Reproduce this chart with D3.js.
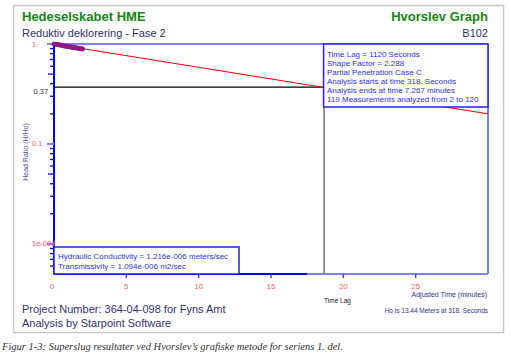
<!DOCTYPE html>
<html><head><meta charset="utf-8">
<script src="https://cdn.jsdelivr.net/npm/d3@7"></script>
<style>body{margin:0;background:#fff}svg{display:block;font-family:"Liberation Sans",Arial,sans-serif}</style>
</head><body><svg id="c" width="511" height="356"></svg>
<script>
// ---- data ----
const adjTime   = [0.00,0.08,0.17,0.25,0.33,0.42,0.50,0.58,0.67,0.75,0.83,0.92,1.00,1.08,1.17,1.25,1.33,1.42,1.50,1.58,1.67,1.75,1.83,1.92,1.97];
const headRatio = [1.00,0.996,0.99,0.986,0.981,0.976,0.972,0.966,0.961,0.957,0.951,0.947,0.942,0.937,0.933,0.928,0.924,0.92,0.915,0.911,0.906,0.902,0.898,0.894,0.892];
const fitTime  = [0, 30];
const fitRatio = [1.0, 0.2];
const xTickValues = [0,5,10,15,20,25];
const yDecadeValues = [1, 0.1, 0.01];
const yDecadeLabels = ["1.", "0.1", "1e-002"];
const yMinorValues = [0.9,0.8,0.7,0.6,0.4,0.3,0.2,0.09,0.08,0.07,0.06,0.04,0.03,0.02,0.009,0.008,0.007,0.006];
const yMidValues = [0.5, 0.05];
const timeLag = 18.67, lagRatio = 0.37;
const infoLines = ["Time Lag = 1120 Seconds","Shape Factor = 2.288","Partial Penetration Case C","Analysis starts at time 318. Seconds","Analysis ends at time 7.267 minutes","119 Measurements analyzed from 2 to 120"];
const resultLines = ["Hydraulic Conductivity = 1.216e-006 meters/sec","Transmissivity = 1.094e-006 m2/sec"];

// ---- layout ----
const svg = d3.select("#c");
const L=54, R=488, T=44, B=274;
const x = d3.scaleLinear().domain([0,30]).range([L,R]);
const y = d3.scaleLog().domain([0.005,1]).range([B,T]);
const dark="#0000ff", light="#8080ff", navy="#30307a", green="#108a10", salmon="#ff5a5a";

// frame
svg.append("rect").attr("x",13.5).attr("y",5.5).attr("width",490).attr("height",327)
  .attr("fill","#fff").attr("stroke","#c8c8c8").attr("stroke-width",1.5);

// headers
svg.append("text").attr("x",22).attr("y",21).attr("font-size",13).attr("font-weight","bold").attr("fill",green).text("Hedeselskabet HME");
svg.append("text").attr("x",22).attr("y",37).attr("font-size",11).attr("fill",navy).text("Reduktiv deklorering - Fase 2");
svg.append("text").attr("x",488).attr("y",21).attr("font-size",13).attr("font-weight","bold").attr("fill",green).attr("text-anchor","end").text("Hvorslev Graph");
svg.append("text").attr("x",488).attr("y",37).attr("font-size",11).attr("fill",navy).attr("text-anchor","end").text("B102");

// plot borders
svg.append("line").attr("x1",L).attr("x2",R).attr("y1",T).attr("y2",T).attr("stroke",light).attr("stroke-width",2);
svg.append("line").attr("x1",R).attr("x2",R).attr("y1",T).attr("y2",B).attr("stroke",light).attr("stroke-width",2);
svg.append("line").attr("x1",L).attr("x2",x(17.5)).attr("y1",B).attr("y2",B).attr("stroke",dark).attr("stroke-width",2);
svg.append("line").attr("x1",x(17.5)).attr("x2",R).attr("y1",B).attr("y2",B).attr("stroke",light).attr("stroke-width",2);
svg.append("line").attr("x1",L).attr("x2",L).attr("y1",T).attr("y2",B).attr("stroke",dark).attr("stroke-width",2);

// y ticks
const yAx = svg.append("g");
yAx.selectAll(".mn").data(yMinorValues).enter().append("line").attr("class","mn")
  .attr("x1",L-4).attr("x2",L).attr("y1",d=>y(d)).attr("y2",d=>y(d)).attr("stroke",dark).attr("stroke-width",1.3);
yAx.selectAll(".md").data(yMidValues).enter().append("line").attr("class","md")
  .attr("x1",L-6).attr("x2",L).attr("y1",d=>y(d)).attr("y2",d=>y(d)).attr("stroke",dark).attr("stroke-width",1.3);
yAx.selectAll(".dc").data(yDecadeValues).enter().append("line").attr("class","dc")
  .attr("x1",L-7).attr("x2",L).attr("y1",d=>y(d)).attr("y2",d=>y(d)).attr("stroke",light).attr("stroke-width",2);
yAx.selectAll(".dl").data(yDecadeValues).enter().append("text").attr("class","dl")
  .attr("x",32).attr("y",d=>y(d)+2.5).attr("font-size",7.5).attr("fill",salmon).text((d,i)=>yDecadeLabels[i]);
svg.append("text").attr("x",33.5).attr("y",y(lagRatio)+7).attr("font-size",7.5).attr("fill","#333").text("0.37");
svg.append("text").attr("transform","translate(28,152) rotate(-90)").attr("text-anchor","middle")
  .attr("font-size",7).attr("fill","#5050a0").text("Head Ratio (H/Ho)");

// x ticks
const xAx = svg.append("g");
xAx.selectAll("line").data(xTickValues.filter(d=>d>0)).enter().append("line")
  .attr("x1",d=>x(d)).attr("x2",d=>x(d)).attr("y1",B).attr("y2",B+4).attr("stroke","#4040ff").attr("stroke-width",1.5);
xAx.selectAll("text").data(xTickValues).enter().append("text")
  .attr("x",d=>x(d)-(d===0?2:0)).attr("y",B+15).attr("text-anchor","middle").attr("font-size",8).attr("fill",salmon).text(d=>d);

// time lag lines
svg.append("line").attr("x1",L).attr("x2",x(timeLag)).attr("y1",y(lagRatio)).attr("y2",y(lagRatio)).attr("stroke","#000").attr("stroke-width",1.2);
svg.append("line").attr("x1",x(timeLag)).attr("x2",x(timeLag)).attr("y1",y(lagRatio)).attr("y2",B).attr("stroke","#707070").attr("stroke-width",1.5);

// fit line
svg.append("path").datum(fitTime.map((t,i)=>[t,fitRatio[i]]))
  .attr("d",d3.line().x(d=>x(d[0])).y(d=>y(d[1]))).attr("fill","none").attr("stroke","#ff0000").attr("stroke-width",1);

// measurements
svg.append("g").selectAll("circle").data(adjTime.map((t,i)=>[t,headRatio[i]])).enter().append("circle")
  .attr("cx",d=>x(d[0])).attr("cy",d=>y(d[1])).attr("r",2.5).attr("fill","#8a1a8a").attr("opacity",0.85);

// info box
svg.append("rect").attr("x",x(timeLag)-0.5).attr("y",T).attr("width",R-x(timeLag)+0.5).attr("height",63)
  .attr("fill","#fff").attr("stroke","#2020ff").attr("stroke-width",1.5);
svg.append("g").selectAll("text").data(infoLines).enter().append("text")
  .attr("x",327).attr("y",(d,i)=>57+i*8.9).attr("font-size",8).attr("fill","#3030ff").text(d=>d);

// result box
svg.append("rect").attr("x",L).attr("y",247).attr("width",185).attr("height",B-247)
  .attr("fill","#fff").attr("stroke","#2020ff").attr("stroke-width",1.5);
svg.append("g").selectAll("text").data(resultLines).enter().append("text")
  .attr("x",58).attr("y",(d,i)=>259+i*9.7).attr("font-size",8).attr("fill","#3030ff").text(d=>d);

// bottom labels
svg.append("text").attr("x",x(timeLag)).attr("y",303).attr("font-size",6.5).attr("fill","#222").text("Time Lag");
svg.append("text").attr("x",487).attr("y",297).attr("text-anchor","end").attr("font-size",7).attr("fill","#30309a").text("Adjusted Time (minutes)");
svg.append("text").attr("x",488).attr("y",312.5).attr("text-anchor","end").attr("font-size",6.5).attr("fill","#30309a").text("Ho is 13.44 Meters at 318. Seconds");
svg.append("text").attr("x",22).attr("y",313).attr("font-size",11).attr("fill",navy).text("Project Number: 364-04-098 for Fyns Amt");
svg.append("text").attr("x",22).attr("y",327).attr("font-size",11).attr("fill",navy).text("Analysis by Starpoint Software");

// caption
svg.append("text").attr("x",2).attr("y",350).attr("font-size",10.5).attr("font-style","italic")
  .attr("font-family","'Liberation Serif','Times New Roman',serif").attr("fill","#333")
  .text("Figur 1-3: Superslug resultater ved Hvorslev’s grafiske metode for seriens 1. del.");
</script></body></html>
